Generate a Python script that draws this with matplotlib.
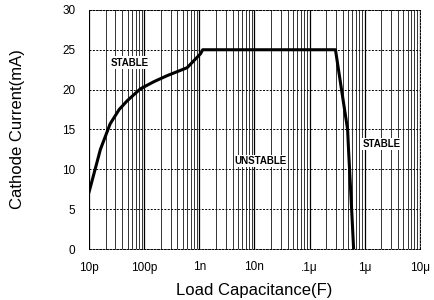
import matplotlib
matplotlib.use("Agg")
import matplotlib.pyplot as plt
from matplotlib.ticker import LogLocator, NullFormatter

plt.rcParams['font.family'] = ['Liberation Sans', 'DejaVu Sans']

cap = [1e-11, 1.6e-11, 2.4e-11, 3.5e-11, 4.9e-11, 8.5e-11, 1.5e-10, 2.6e-10, 6e-10, 1.05e-9, 1.15e-9,
       2.95e-7, 3.8e-7, 4.9e-7, 5.1e-7, 5.7e-7, 6.3e-7]
current = [7.2, 12.5, 15.7, 17.5, 18.6, 20.1, 21.0, 21.75, 22.75, 24.5, 25.0,
           25.0, 20.0, 15.0, 12.4, 6.0, 0.0]
xticks = [1e-11, 1e-10, 1e-9, 1e-8, 1e-7, 1e-6, 1e-5]
xlabels = ["10p", "100p", "1n", "10n", ".1μ", "1μ", "10μ"]
yticks = [0, 5, 10, 15, 20, 25, 30]
regions = [("STABLE", 5.5e-11, 23.4), ("UNSTABLE", 1.3e-8, 11.0), ("STABLE", 2.0e-6, 13.2)]

fig = plt.figure(figsize=(4.35, 3.0), dpi=100)
ax = fig.add_axes([0.205, 0.17, 0.76, 0.797])
ax.set_xscale("log")
ax.set_xlim(1e-11, 1e-5)
ax.set_ylim(0, 30)
ax.plot(cap, current, color="black", lw=2.2, zorder=3)

ax.set_xticks(xticks)
ax.set_xticklabels(xlabels)
ax.xaxis.set_minor_locator(LogLocator(base=10, subs=range(2, 10)))
ax.xaxis.set_minor_formatter(NullFormatter())
ax.set_yticks(yticks)
ax.grid(which="major", axis="x", color="black", lw=0.9, ls="-")
ax.grid(which="minor", axis="x", color="black", lw=0.7, ls="-", alpha=0.8)
ax.grid(which="major", axis="y", color="black", lw=0.7, ls=(0, (2, 1.5)))
ax.tick_params(which="both", length=0, labelsize=8.5)
ax.tick_params(axis="y", pad=10)
ax.tick_params(axis="x", pad=9)
for s in ax.spines.values():
    s.set_linewidth(0.7)
    s.set_linestyle((0, (2, 1.5)))

for txt, x, y in regions:
    ax.text(x, y, txt, fontsize=7, fontweight="bold", ha="center", va="center",
            bbox=dict(facecolor="white", edgecolor="none", pad=0.8), zorder=4)

ax.set_xlabel("Load Capacitance(F)", fontsize=12)
ax.set_ylabel("Cathode Current(mA)", fontsize=12)
ax.xaxis.set_label_coords(0.5, -0.172)
ax.xaxis.label.set_va("center")
ax.yaxis.set_label_coords(-0.218, 0.5)
ax.yaxis.label.set_va("center")
fig.savefig("out.png", dpi=100)
